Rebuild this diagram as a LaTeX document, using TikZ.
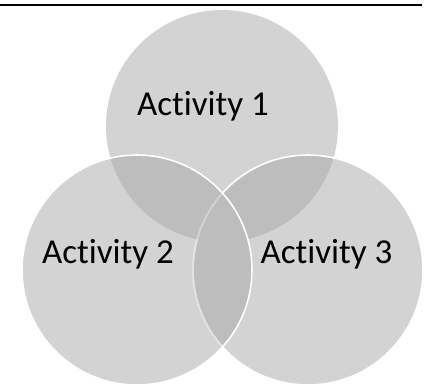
\documentclass[tikz,border=0pt]{standalone}
\usepackage{fontspec}
\setmainfont{Carlito}[Ligatures=NoCommon]
\definecolor{vsingle}{HTML}{D3D3D3}
\definecolor{vdouble}{HTML}{BDBDBD}
\tikzset{
  lbl/.style={anchor=base, inner sep=0pt, font=\fontsize{35}{40}\selectfont, text=black},
  outl/.style={draw=white, line width=1.6pt},
}
\begin{document}
\begin{tikzpicture}[x=1pt,y=-1pt]
\useasboundingbox (0,0) rectangle (425,386);
\def\ra{116}\def\rb{115}
\coordinate (c1) at (222,126);
\coordinate (c2) at (137,270);
\coordinate (c3) at (308,270);
\coordinate (l1) at (0,5);
\coordinate (l2) at (422,5);
% fills
\fill[fill=vsingle] (c1) circle (\ra);
\fill[fill=vsingle] (c2) circle (\rb);
\fill[fill=vsingle] (c3) circle (\rb);
% pairwise overlaps
\begin{scope}
  \clip (c1) circle (\ra);
  \fill[fill=vdouble] (c2) circle (\rb);
  \fill[fill=vdouble] (c3) circle (\rb);
\end{scope}
\begin{scope}
  \clip (c2) circle (\rb);
  \fill[fill=vdouble] (c3) circle (\rb);
\end{scope}
% outlines
\draw[outl] (c3) circle (\rb);
\begin{scope}
  \clip (c2) circle (\rb);
  \draw[draw=vsingle, line width=1.6pt] (c3) circle (\rb);
  \clip (c1) circle (\ra);
  \draw[draw=vdouble, line width=1.6pt] (c3) circle (\rb);
\end{scope}
\begin{scope}
  \clip (c2) circle (\rb);
  \draw[draw=white, opacity=0.3, line width=1.6pt] (c3) circle (\rb);
\end{scope}
\draw[outl] (c2) circle (\rb);
% top rule
\draw[black, line width=2pt] (l1) -- (l2);
% labels
\node[lbl] (t1) at (203,115) {Activity 1};
\node[lbl] (t2) at (108,263) {Activity 2};
\node[lbl] (t3) at (326.5,263) {Activity 3};
\end{tikzpicture}
\end{document}
